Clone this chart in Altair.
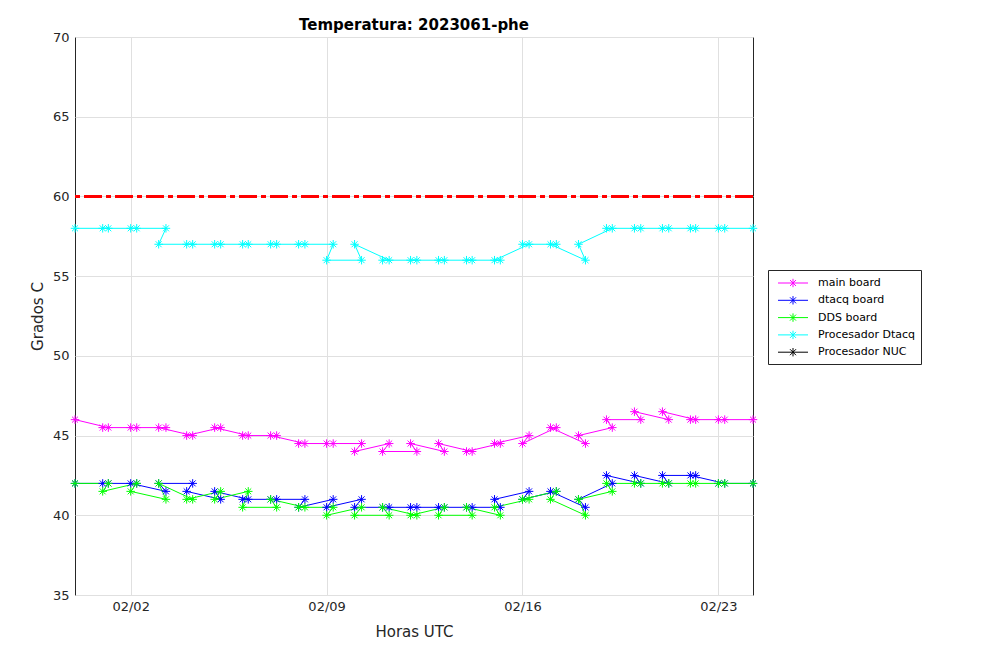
import altair as alt
import pandas as pd

# ---------------- data ----------------
series_names = ["main board", "dtacq board", "DDS board", "Procesador Dtacq", "Procesador NUC"]
series_colors = ["#ff00ff", "#0000ff", "#00ff00", "#00ffff", "#000000"]

# sample times (UTC) in recorded order
times = [
    "2023-01-31T00:15",
    "2023-02-01T04:50", "2023-02-01T00:00",
    "2023-02-02T05:10", "2023-02-02T00:00",
    "2023-02-03T06:15", "2023-02-03T00:00",
    "2023-02-04T05:10", "2023-02-04T00:00",
    "2023-02-05T05:10", "2023-02-05T00:00",
    "2023-02-06T04:50", "2023-02-06T00:00",
    "2023-02-07T05:10", "2023-02-07T00:00",
    "2023-02-08T05:25", "2023-02-08T00:00",
    "2023-02-09T05:40", "2023-02-09T00:00",
    "2023-02-10T06:00", "2023-02-10T00:00",
    "2023-02-11T05:40", "2023-02-11T00:00",
    "2023-02-12T05:25", "2023-02-12T00:00",
    "2023-02-13T05:00", "2023-02-13T00:00",
    "2023-02-14T04:50", "2023-02-14T00:00",
    "2023-02-15T05:00", "2023-02-15T00:00",
    "2023-02-16T05:40", "2023-02-16T00:00",
    "2023-02-17T05:00", "2023-02-17T00:00",
    "2023-02-18T06:00", "2023-02-18T00:00",
    "2023-02-19T05:00", "2023-02-19T00:00",
    "2023-02-20T05:25", "2023-02-20T00:00",
    "2023-02-21T05:25", "2023-02-21T00:00",
    "2023-02-22T04:30", "2023-02-22T00:00",
    "2023-02-23T05:25", "2023-02-23T00:00",
    "2023-02-24T05:40",
]

main_board = [46,
    45.5, 45.5, 45.5, 45.5, 45.5, 45.5, 45, 45, 45.5, 45.5, 45, 45, 45, 45,
    44.5, 44.5, 44.5, 44.5, 44.5, 44, 44.5, 44, 44, 44.5, 44, 44.5, 44, 44,
    44.5, 44.5, 45, 44.5, 45.5, 45.5, 44.5, 45, 45.5, 46, 46, 46.5, 46, 46.5,
    46, 46, 46, 46,
    46]

dtacq_board = [42,
    42, 42, 42, 42, 41.5, 42, 42, 41.5, 41, 41.5, 41, 41, 41, 41,
    41, 40.5, 41, 40.5, 41, 40.5, 40.5, 40.5, 40.5, 40.5, 40.5, 40.5, 40.5, 40.5,
    40.5, 41, 41.5, 41, 41.5, 41.5, 40.5, 41, 42, 42.5, 42, 42.5, 42, 42.5,
    42.5, 42.5, 42, 42,
    42]

dds_board = [42,
    42, 41.5, 42, 41.5, 41, 42, 41, 41, 41.5, 41, 41.5, 40.5, 40.5, 41,
    40.5, 40.5, 40.5, 40, 40.5, 40, 40, 40.5, 40, 40, 40.5, 40, 40, 40.5,
    40, 40.5, 41, 41, 41.5, 41, 40, 41, 41.5, 42, 42, 42, 42, 42,
    42, 42, 42, 42,
    42]

procesador_dtacq = [58,
    58, 58, 58, 58, 58, 57, 57, 57, 57, 57, 57, 57, 57, 57,
    57, 57, 57, 56, 56, 57, 56, 56, 56, 56, 56, 56, 56, 56,
    56, 56, 57, 57, 57, 57, 56, 57, 58, 58, 58, 58, 58, 58,
    58, 58, 58, 58,
    58]

limit_value = 60
x_ticks = [(2, 2), (2, 9), (2, 16), (2, 23)]
y_ticks = [35, 40, 45, 50, 55, 60, 65, 70]

# ---------------- table ----------------
rows = []
for name, vals in zip(series_names[:4], [main_board, dtacq_board, dds_board, procesador_dtacq]):
    for i, (t, v) in enumerate(zip(times, vals)):
        rows.append({"t": t + ":00Z", "v": v, "serie": name, "idx": i})
df = pd.DataFrame(rows)

FONT = "DejaVu Sans"
AX = "#262626"

star = "M-1,0L1,0M0,-1L0,1M-0.7,-0.7L0.7,0.7M-0.7,0.7L0.7,-0.7"
# legend symbol: a short line with an asterisk in the middle
legend_sym = "M-2,0L2,0M0,-0.56L0,0.56M-0.4,-0.4L0.4,0.4M-0.4,0.4L0.4,-0.4"

x_enc = alt.X(
    "t:T",
    scale=alt.Scale(type="utc", nice=False),
    axis=alt.Axis(
        title="Horas UTC",
        values=[alt.DateTime(year=2023, month=m, date=d, utc=True) for m, d in x_ticks],
        format="%m/%d",
        labelPadding=5,
        titlePadding=11,
    ),
)
y_enc = alt.Y(
    "v:Q",
    scale=alt.Scale(domain=[35, 70], nice=False, zero=False),
    axis=alt.Axis(title="Grados C", values=y_ticks, labelPadding=6, titlePadding=7),
)
color_enc = alt.Color(
    "serie:N",
    scale=alt.Scale(domain=series_names, range=series_colors),
    legend=alt.Legend(
        title=None,
        orient="none",
        legendX=693,
        legendY=233,
        symbolType=legend_sym,
        symbolSize=225,
        symbolStrokeWidth=1,
        symbolOpacity=1,
        symbolOffset=12,
        labelFont=FONT,
        labelFontSize=11,
        labelColor="#000000",
        strokeColor=AX,
        fillColor="white",
        padding=5,
        rowPadding=2.3,
        labelOffset=17,
    ),
)

base = alt.Chart(df)

lines = base.mark_line(strokeWidth=1, opacity=1).encode(
    x=x_enc, y=y_enc, color=color_enc, order=alt.Order("idx:Q")
)
points = base.mark_point(shape=star, size=72, filled=False, strokeWidth=1, opacity=1).encode(
    x=x_enc, y=y_enc, color=color_enc
)
limit = alt.Chart(pd.DataFrame({"lim": [limit_value]})).mark_rule(
    color="#ff0000", strokeWidth=3, strokeDash=[18, 4, 5, 4]
).encode(y=alt.Y("lim:Q"))

chart = (
    alt.layer(limit, lines, points)
    .properties(
        width=678,
        height=558,
        title=alt.Title(
            "Temperatura: 2023061-phe",
            anchor="middle",
            baseline="bottom",
            offset=5,
            dy=22,
        ),
        autosize=alt.AutoSizeParams(type="none"),
        padding={"left": 67, "top": 29, "right": 247, "bottom": 58},
    )
    .configure_view(stroke=AX, strokeWidth=1)
    .configure_axis(
        domain=False,
        ticks=False,
        grid=True,
        gridColor="#e0e0e0",
        gridWidth=1,
        labelFont=FONT,
        titleFont=FONT,
        labelFontSize=13,
        titleFontSize=15,
        titleFontWeight="normal",
        labelColor=AX,
        titleColor=AX,
    )
    .configure_title(font=FONT, fontSize=15, fontWeight="bold", color="#000000")
)

chart.save("out.html", embed_options={"renderer": "svg", "actions": False})
